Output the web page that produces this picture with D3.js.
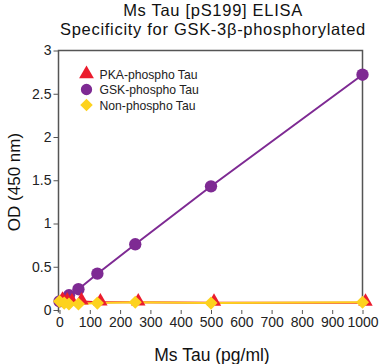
<!DOCTYPE html>
<html><head><meta charset="utf-8">
<script src="https://cdn.jsdelivr.net/npm/d3@7"></script>
<style>body{margin:0;background:#fff}svg{display:block}text{font-family:"Liberation Sans",Arial,sans-serif}</style>
</head><body>
<script>
const concX = [0, 15.6, 31.25, 62.5, 125, 250, 500, 1000];
const gskOD = [0.10, 0.12, 0.17, 0.24, 0.42, 0.76, 1.43, 2.72];
const pkaOD = [0.11, 0.10, 0.09, 0.10, 0.09, 0.09, 0.085, 0.085];
const nonOD = [0.10, 0.08, 0.07, 0.07, 0.08, 0.09, 0.08, 0.09];
const xTicks = [0,100,200,300,400,500,600,700,800,900,1000];
const yTicks = [0,0.5,1,1.5,2,2.5,3];
const seriesNames = ["PKA-phospho Tau","GSK-phospho Tau","Non-phospho Tau"];
const colors = ["#EB1C2D","#7E2A93","#FDD21E"];

const W=380,H=364;
const svg=d3.select("body").append("svg").attr("width",W).attr("height",H);
const x=d3.scaleLinear().domain([0,1000]).range([59.5,362.5]);
const y=d3.scaleLinear().domain([0,3]).range([310,50.5]);

// title
svg.append("text").attr("x",213).attr("y",15.5).attr("text-anchor","middle").attr("font-size",16.5).attr("letter-spacing",0.7).attr("fill","#111").text("Ms Tau [pS199] ELISA");
svg.append("text").attr("x",213).attr("y",34.5).attr("text-anchor","middle").attr("font-size",16.5).attr("letter-spacing",0.7).attr("fill","#111").text("Specificity for GSK-3β-phosphorylated");

// frame (left, top, right)
svg.append("path").attr("d",`M${x(0)-1},${y(-0.03)}V${y(3)}H${x(1000)}V${y(0.05)}`)
  .attr("fill","none").attr("stroke","#555").attr("stroke-width",1.5);

// y axis
const ya=svg.append("g").attr("transform",`translate(${x(0)-1},0)`)
  .call(d3.axisLeft(y).tickValues(yTicks).tickFormat(d=>d).tickSize(5).tickPadding(2));
ya.select(".domain").remove();
ya.selectAll("line").attr("stroke","#555");
ya.selectAll("text").attr("font-size",14).attr("fill","#222");

// x axis
const xa=svg.append("g").attr("transform",`translate(0,310)`)
  .call(d3.axisBottom(x).tickValues(xTicks).tickFormat(d=>d).tickSize(4).tickPadding(3));
xa.select(".domain").remove();
xa.selectAll("line").attr("stroke","#555");
xa.selectAll("text").attr("font-size",14).attr("fill","#222");

svg.append("text").attr("x",212).attr("y",361).attr("text-anchor","middle").attr("font-size",17.5).attr("fill","#111").text("Ms Tau (pg/ml)");
svg.append("text").attr("transform","translate(20,182) rotate(-90)").attr("text-anchor","middle").attr("font-size",17).attr("fill","#111").text("OD (450 nm)");

const line=d3.line().x((d,i)=>x(concX[i])).y(d=>y(d));
const sym=[d3.symbolTriangle,d3.symbolCircle,d3.symbolDiamond2];
const data=[pkaOD,gskOD,nonOD];
const order=[1,0,2];
order.forEach(k=>{
  svg.append("path").datum(data[k]).attr("d",line).attr("fill","none").attr("stroke",colors[k]).attr("stroke-width",2);
});
order.forEach(k=>{
  const size = k===1?120:(k===0?90:110);
  svg.selectAll(null).data(data[k]).enter().append("path")
    .attr("d",d3.symbol().type(sym[k]).size(size))
    .attr("transform",(d,i)=>`translate(${x(concX[i])+(k===0?3:0)},${y(d)-(k===0?1:0)})`)
    .attr("fill",colors[k]);
});

// legend
seriesNames.forEach((n,i)=>{
  const yy=74+i*15.5;
  svg.append("path").attr("d",d3.symbol().type(sym[i]).size(i===1?100:(i===0?95:100))).attr("transform",`translate(86.5,${yy})`).attr("fill",colors[i]);
  svg.append("text").attr("x",99.5).attr("y",yy+4.5).attr("font-size",12.2).attr("fill","#222").text(n);
});
</script>
</body></html>
